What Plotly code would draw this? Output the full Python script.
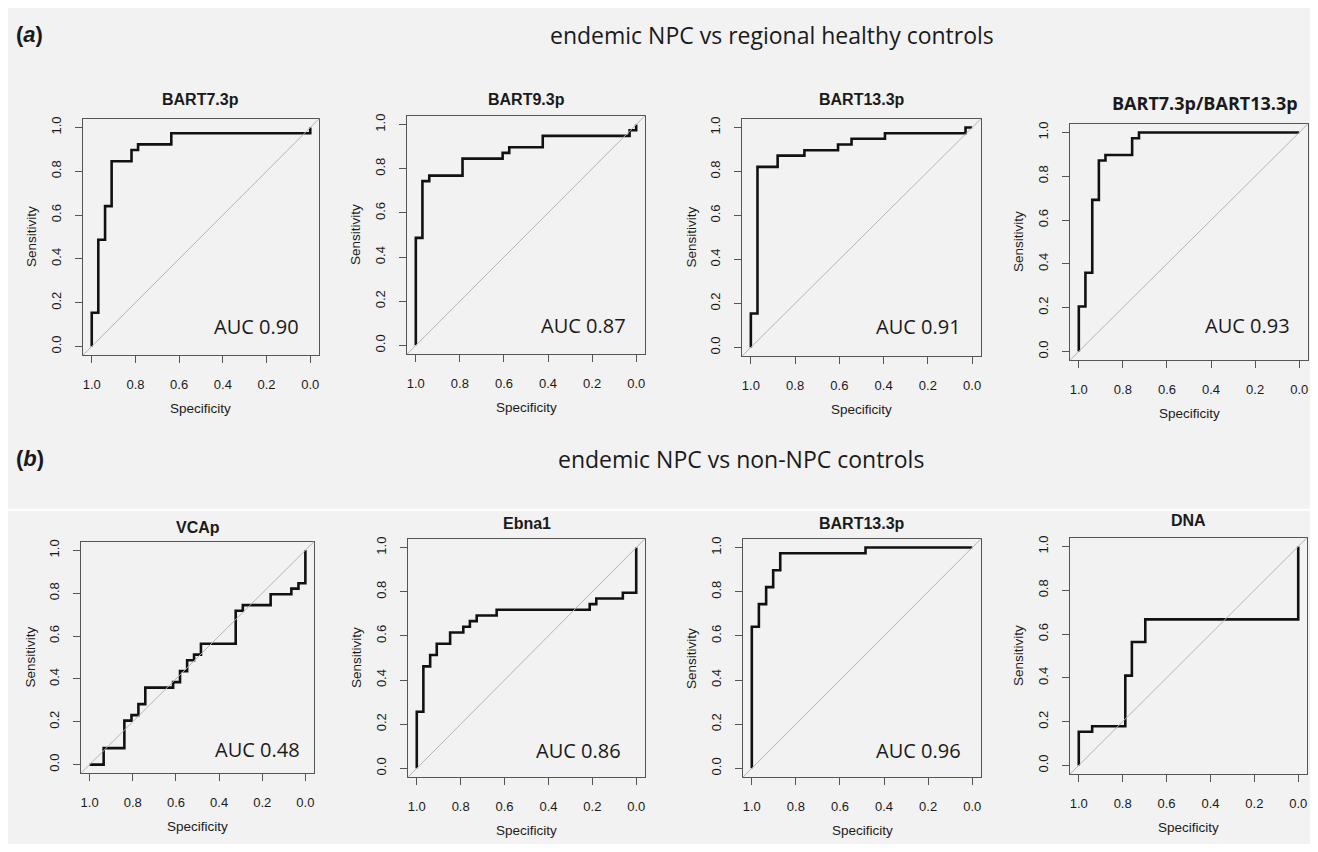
import plotly.graph_objects as go

# The browser adds an 8px body margin; the figure is sized and shifted so the
# picture lands on the same window pixels as the reference.
OFF = 8
W, H = 1302, 836

# ---- data ----
titles = ["BART7.3p", "BART9.3p", "BART13.3p", "BART7.3p/BART13.3p",
          "VCAp", "Ebna1", "BART13.3p", "DNA"]
auc_labels = ["AUC 0.90", "AUC 0.87", "AUC 0.91", "AUC 0.93",
              "AUC 0.48", "AUC 0.86", "AUC 0.96", ""]

# step corners (specificity, sensitivity); drawn vertical-then-horizontal
spec_bart7 = [1, .970, .939, .909, .818, .788, .636, 0, 0]
sens_bart7 = [0, .154, .487, .641, .846, .897, .923, .974, 1]

spec_bart9 = [1, .970, .939, .788, .606, .576, .424, .030, 0, 0]
sens_bart9 = [0, .487, .744, .769, .846, .872, .897, .949, .974, 1]

spec_bart13a = [1, .970, .879, .758, .606, .545, .394, .030, 0]
sens_bart13a = [0, .154, .821, .872, .897, .923, .949, .974, 1]

spec_combo = [1, .970, .939, .909, .879, .758, .727, 0]
sens_combo = [0, .205, .359, .692, .872, .897, .974, 1]

spec_vcap = [1, .935, .839, .806, .774, .742, .613, .581, .548, .516, .484,
             .323, .290, .161, .065, .032, 0, 0]
sens_vcap = [0, 0, .077, .205, .231, .282, .359, .385, .436, .487, .513,
             .564, .718, .744, .795, .821, .846, 1]

spec_ebna1 = [1, .970, .939, .909, .848, .788, .758, .727, .636, .212, .182, .061, 0, 0]
sens_ebna1 = [0, .256, .462, .513, .564, .615, .641, .667, .692, .718, .744, .769, .795, 1]

spec_bart13b = [1, .968, .935, .903, .871, .484, 0]
sens_bart13b = [0, .641, .744, .821, .897, .974, 1]

spec_dna = [1, .939, .788, .758, .697, 0, 0]
sens_dna = [0, .154, .179, .410, .564, .667, 1]

curves = [(spec_bart7, sens_bart7), (spec_bart9, sens_bart9),
          (spec_bart13a, sens_bart13a), (spec_combo, sens_combo),
          (spec_vcap, sens_vcap), (spec_ebna1, sens_ebna1),
          (spec_bart13b, sens_bart13b), (spec_dna, sens_dna)]

tick_vals = [1.0, 0.8, 0.6, 0.4, 0.2, 0.0]
tick_text = ["1.0", "0.8", "0.6", "0.4", "0.2", "0.0"]

# ---- layout geometry (window pixels) ----
boxes = [  # left, right, top, bottom
    (83, 319, 117, 354), (407, 645, 114, 353), (742, 981, 117, 355), (1070, 1308, 122, 359),
    (81, 314, 541, 773), (408, 645, 538, 777), (743, 981, 538, 777), (1070, 1307, 537, 774),
]
title_pos = [(None, 98), (None, 98), (None, 98), (1205, 101),
             (None, 527), (None, 523), (None, 523), (None, 520)]
auc_pos = [(256, 325), (583, 324), (919, 325), (1247, 324),
           (257, 749), (578, 750), (918, 750), (0, 0)]

BG = "#f2f2f2"
AXC = "#555555"
TXT = "#1a1a1a"


def px(x):
    return (x - OFF) / W


def py(y):
    return 1 - (y - OFF) / H


fig = go.Figure()
ann = []
shapes = [
    dict(type="rect", xref="paper", yref="paper", x0=0, x1=1,
         y0=py(510), y1=py(508), fillcolor="white", line_width=0, layer="below"),
]


def label(text, x, y, size, family="Liberation Sans, Arial", angle=0, xanchor="center"):
    ann.append(dict(text=text, x=px(x), y=py(y), xref="paper", yref="paper",
                    xanchor=xanchor, yanchor="middle", showarrow=False, textangle=angle,
                    font=dict(family=family, size=size, color=TXT)))


for i, ((l, r, t, b), (sx, sy)) in enumerate(zip(boxes, curves)):
    k = i + 1
    xa = "x" if k == 1 else f"x{k}"
    ya = "y" if k == 1 else f"y{k}"
    fig.add_trace(go.Scatter(x=sx, y=sy, mode="lines", line_shape="vh",
                             line=dict(color="#111111", width=2.6),
                             xaxis=xa, yaxis=ya, showlegend=False, hoverinfo="skip"))
    axis_common = dict(showgrid=False, zeroline=False, showline=True, mirror=True,
                       linecolor=AXC, linewidth=1.2, ticks="outside", ticklen=7,
                       tickcolor=AXC, tickwidth=1.2, tickvals=tick_vals, ticktext=tick_text,
                       tickfont=dict(family="Liberation Sans, Arial", size=13, color=TXT),
                       fixedrange=True)
    fig.update_layout(**{
        ("xaxis" if k == 1 else f"xaxis{k}"): dict(
            domain=[px(l), px(r)], range=[1.04, -0.04], anchor=ya,
            ticklabelstandoff=10, **axis_common),
        ("yaxis" if k == 1 else f"yaxis{k}"): dict(
            domain=[py(b), py(t)], range=[-0.04, 1.04], anchor=xa,
            tickangle=-90, ticklabelstandoff=9, **axis_common),
    })
    shapes.append(dict(type="line", xref=f"{xa} domain", yref=f"{ya} domain",
                       x0=0, y0=0, x1=1, y1=1, line=dict(color="#b5b5b5", width=1)))
    cx = (l + r) / 2
    tx, ty = title_pos[i]
    if tx is None:
        label(f"<b>{titles[i]}</b>", cx, ty, 16)
    else:
        label(f"<b>{titles[i]}</b>", tx, ty, 18, family="Open Sans")
    label("Sensitivity", l - 51, (t + b) / 2, 13.5, angle=-90)
    label("Specificity", cx, b + 53, 13.5)
    if auc_labels[i]:
        ax_, ay_ = auc_pos[i]
        label(auc_labels[i], ax_, ay_, 20, family="Open Sans")

# section headers
label("<b>(<i>a</i>)</b>", 14, 33, 22, xanchor="left")
label("<b>(<i>b</i>)</b>", 14, 458, 22, xanchor="left")
label("endemic NPC vs regional healthy controls", 548, 33, 23, family="Open Sans", xanchor="left")
label("endemic NPC vs non-NPC controls", 556, 458, 23, family="Open Sans", xanchor="left")

fig.update_layout(width=W, height=H, autosize=False,
                  margin=dict(l=0, r=0, t=0, b=0),
                  paper_bgcolor=BG, plot_bgcolor=BG,
                  annotations=ann, shapes=shapes)

fig.write_html("out.html")
